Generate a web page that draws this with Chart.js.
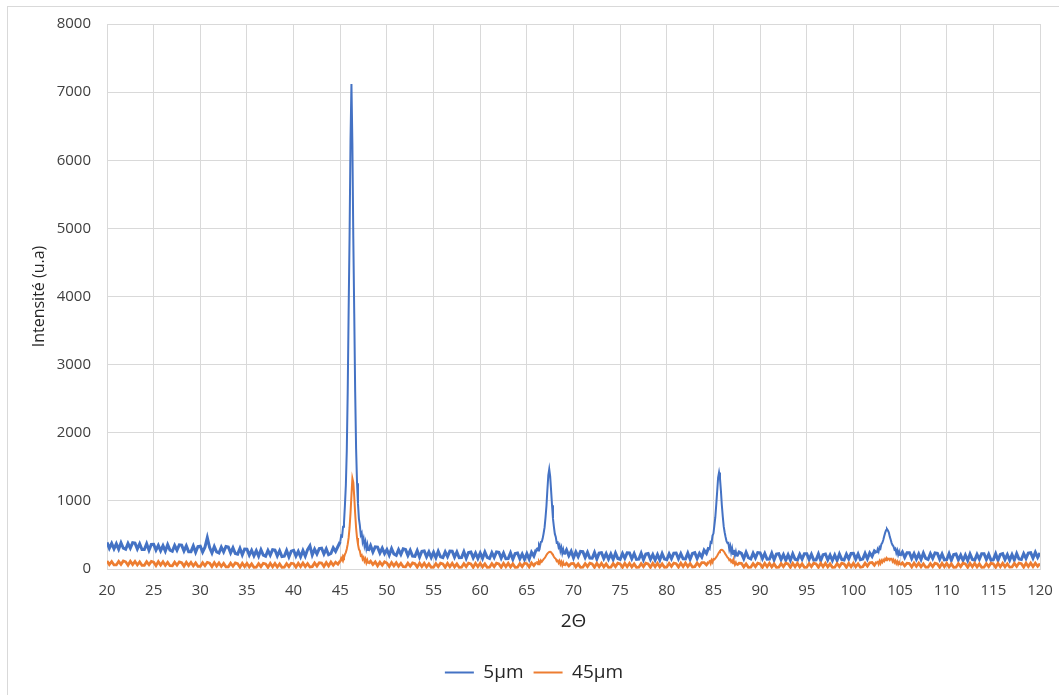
<!DOCTYPE html>
<html>
<head>
<meta charset="utf-8">
<script src="https://cdn.jsdelivr.net/npm/chart.js@4.4.1/dist/chart.umd.min.js"></script>
<style>
    html, body { margin: 0; padding: 0; background: #fff; overflow: hidden; }
    #frame {
        position: absolute; left: 7px; top: 6px; width: 1100px; height: 750px;
        border-left: 1px solid #d9d9d9; border-top: 1px solid #d9d9d9;
    }
    #xrd-chart { position: absolute; left: 0; top: 0; }
</style>
</head>
<body>
<div id="frame"></div>
<canvas id="xrd-chart" width="1059" height="695"></canvas>
<script>
// scan grid (2theta): [start, end, step] - coarser on background, finer over the peaks
const scanSegments = [
    [20, 45, 0.25], [45.1, 48, 0.1], [48.25, 66, 0.25], [66.1, 69, 0.1], [69.25, 84.5, 0.25],
    [84.6, 87.5, 0.1], [87.75, 102.5, 0.25], [102.6, 105, 0.1], [105.25, 120, 0.25]
];

// intensity, one line per scan segment
const intensity5um = [
    390,305,375,295, 370,290,385,305, 290,375,305,385, 380,295,370,285, 285,370,275,360, 363,278,348,268, 342,262,357,277, 260,345,275,355, 350,265,340,255, 255,340,245,330, 335,250,320,460, 315,235,330,250, 235,320,250,330, 322,237,312,227, 218,303,208,293, 290,205,275,195, 268,188,283,203, 188,273,203,283, 278,193,268,183, 188,273,178,263, 275,190,260,180, 270,190,285,340, 205,290,220,300, 305,220,295,210, 228,313,258,330, 400,
    490,480,620,680,930,1230,1740,2600,3800,4900, 6300,7120,6250,4850,3750,2600,1760,1260,960,740, 640,500,530,400,450,340,400,300,360,265,
    345,250,325, 320,235,305,225, 285,205,300,220, 200,285,215,295, 285,200,275,190, 185,270,175,260, 265,180,250,170, 245,165,260,180, 167,252,182,262, 260,175,250,165, 168,253,158,243, 250,165,235,155, 235,155,250,170, 155,240,170,250, 245,160,235,150, 152,237,142,227, 235,150,220,140, 225,145,245,190, 285,
    300,270,350,320,395,400,450,525,610,755, 925,1160,1375,1465,1360,1150,935,740,620,515, 470,385,390,320,350,265,315,230,285,215,
    280,195,260, 165,250,180,260, 255,170,245,160, 158,243,148,233, 240,155,225,145, 220,140,235,155, 143,228,158,238, 235,150,225,140, 145,230,135,220, 227,142,212,132, 212,132,227,147, 137,222,152,232, 235,150,225,150, 148,233,143,228, 240,155,230,175, 275,230,320,
    300,395,385,490,520,640,760,945,1140,1340, 1417,1330,1150,935,770,625,540,470,410,380, 385,285,335,245,305,220,280,200,255,185,
    250, 230,150,245,165, 147,232,162,242, 238,153,228,143, 145,230,135,220, 225,140,210,130, 208,128,223,143, 130,215,145,225, 225,140,215,130, 135,220,125,210, 220,135,205,125, 205,125,220,140, 133,218,148,228, 230,145,220,135, 145,230,150,235, 185,265,235,
    290,255,320,300,365,385,425,480,530,570, 586,565,535,475,430,380,350,330,285,300, 235,275,210,255,195,
    250,170,240, 240,155,225,145, 220,140,235,155, 140,225,155,235, 230,145,220,135, 138,223,128,213, 220,135,205,125, 205,125,220,140, 130,215,145,225, 225,140,215,130, 138,223,128,213, 225,140,210,130, 212,132,227,147, 140,225,155,235, 240,160,245,170,235
];

const intensity45um = [
    118,65,110,60, 60,113,68,118, 106,56,114,64, 112,59,104,54, 54,107,62,112, 100,50,108,58, 106,53,98,48, 47,100,55,105, 92,42,100,50, 98,45,90,40, 40,93,48,98, 85,35,93,43, 90,37,82,32, 32,85,40,90, 77,27,85,35, 83,30,75,25, 26,79,34,84, 74,24,82,32, 82,29,74,24, 27,80,35,85, 77,27,85,35, 88,35,80,30, 35,88,43,93, 87,37,95,45, 103,55,100,70, 120,
    160,130,190,170,215,245,295,365,460,610, 820,1080,1330,1270,1060,810,600,455,360,290, 265,195,205,145,170,115,150,90,130,80,
    115,65,105, 47,100,55,105, 88,38,96,46, 92,39,84,34, 32,85,40,90, 78,28,86,36, 84,31,76,26, 27,80,35,85, 75,25,83,33, 83,30,75,25, 27,80,35,85, 75,25,83,33, 83,30,75,25, 27,80,35,85, 75,25,83,33, 83,30,75,25, 27,80,35,85, 78,30,90,50, 95,
    100,70,110,85,125,105,125,145,160,180, 205,225,240,250,253,245,225,205,180,160, 150,115,125,90,120,70,105,55,95,50,
    85,45,80, 83,30,75,25, 27,80,35,85, 75,25,83,33, 83,30,75,25, 27,80,35,85, 75,25,83,33, 83,30,75,25, 27,80,35,85, 75,25,83,33, 83,30,75,25, 30,83,38,88, 78,28,86,36, 88,35,80,30, 35,88,45,95, 95,60,105,
    115,80,130,100,145,140,155,175,195,220, 245,265,280,283,275,260,240,215,195,170, 160,130,140,105,125,85,110,65,95,55,
    85, 83,30,75,25, 27,80,35,85, 75,25,83,33, 83,30,75,25, 27,80,35,85, 75,25,83,33, 83,30,75,25, 27,80,35,85, 75,25,83,33, 83,30,75,25, 27,80,35,85, 75,25,83,33, 85,32,77,27, 32,85,42,92, 95,55,105,
    105,70,115,80,125,100,135,115,150,130, 155,140,150,130,150,150,110,135,95,120, 80,110,70,100,60,
    90,45,85, 80,30,88,38, 85,32,77,27, 27,80,35,85, 75,25,83,33, 83,30,75,25, 27,80,35,85, 75,25,83,33, 83,30,75,25, 27,80,35,85, 75,25,83,33, 85,32,77,27, 30,83,38,88, 78,28,86,36, 88,35,85,40,80
];

const seriesNames = ['5µm', '45µm'];
const seriesColors = ['#4472C4', '#ED7D31'];

// build the 2theta list from the scan segments
const twoTheta = [];
scanSegments.forEach(function(seg) {
    const n = Math.round((seg[1] - seg[0]) / seg[2]) + 1;
    for (let i = 0; i < n; i++) {
        twoTheta.push(+(seg[0] + i * seg[2]).toFixed(2));
    }
});
if (twoTheta.length !== intensity5um.length || twoTheta.length !== intensity45um.length) {
    console.error('length mismatch', twoTheta.length, intensity5um.length, intensity45um.length);
}

function toPoints(values) {
    return values.map(function(v, i) { return {x: twoTheta[i], y: v}; });
}

// thicker stroke on the coarse background steps so the noise reads as a solid band
function bandWidth(wide) {
    return function(c) {
        return (c.p1.parsed.x - c.p0.parsed.x) > 0.15 ? wide : 2;
    };
}

const fontFamily = "'Open Sans', 'DejaVu Sans', sans-serif";
const gridColor = '#d9d9d9';

const ctx = document.getElementById('xrd-chart').getContext('2d');
const chart = new Chart(ctx, {
    type: 'line',
    data: {
        datasets: [{
            label: seriesNames[0],
            data: toPoints(intensity5um),
            borderColor: seriesColors[0],
            backgroundColor: seriesColors[0],
            borderWidth: 2,
            segment: {borderWidth: bandWidth(3)},
            pointRadius: 0,
            order: 1
        }, {
            label: seriesNames[1],
            data: toPoints(intensity45um),
            borderColor: seriesColors[1],
            backgroundColor: seriesColors[1],
            borderWidth: 2,
            segment: {borderWidth: bandWidth(2.75)},
            pointRadius: 0,
            order: 0
        }]
    },
    options: {
        responsive: false,
        animation: false,
        layout: {
            padding: {left: 28, top: 24, right: 19, bottom: 3}
        },
        scales: {
            x: {
                type: 'linear',
                min: 20,
                max: 120,
                ticks: {
                    stepSize: 5,
                    color: '#404040',
                    padding: 13,
                    maxRotation: 0,
                    callback: function(v) { return String(v); },
                    font: {family: fontFamily, size: 15}
                },
                grid: {color: gridColor, drawTicks: false},
                border: {color: gridColor},
                title: {
                    display: true,
                    text: '2Θ',
                    color: '#262626',
                    padding: {top: 4, bottom: 20},
                    font: {family: fontFamily, size: 19}
                },
                afterFit: function(scale) {
                    scale.height = 84;
                    scale.paddingLeft = 0;
                    scale.paddingRight = 0;
                }
            },
            y: {
                min: 0,
                max: 8000,
                ticks: {
                    stepSize: 1000,
                    color: '#404040',
                    padding: 16,
                    callback: function(v) { return String(v); },
                    font: {family: fontFamily, size: 15}
                },
                grid: {color: gridColor, drawTicks: false},
                border: {color: gridColor},
                title: {
                    display: true,
                    text: 'Intensité (u.a)',
                    color: '#262626',
                    padding: {top: 2, bottom: 0},
                    font: {family: fontFamily, size: 16}
                },
                afterFit: function(scale) {
                    scale.width = 79;
                    scale.paddingTop = 0;
                    scale.paddingBottom = 0;
                }
            }
        },
        plugins: {
            legend: {
                position: 'bottom',
                labels: {
                    usePointStyle: true,
                    pointStyle: 'line',
                    pointStyleWidth: 29,
                    padding: 10,
                    color: '#262626',
                    font: {family: fontFamily, size: 19},
                    sort: function(a, b) { return a.datasetIndex - b.datasetIndex; }
                }
            },
            tooltip: {enabled: false}
        }
    }
});
</script>
</body>
</html>
